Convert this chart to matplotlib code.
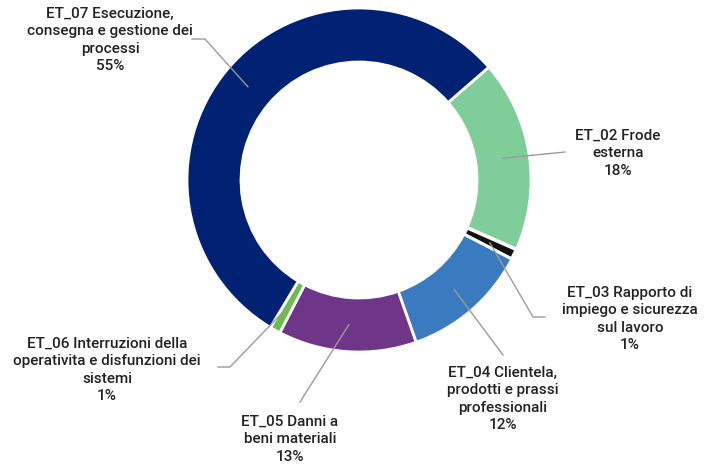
import numpy as np
from matplotlib import pyplot as plt

plt.rcParams['font.family'] = ['Roboto', 'DejaVu Sans']

# data
categories = ["ET_02 Frode\nesterna",
              "ET_03 Rapporto di\nimpiego e sicurezza\nsul lavoro",
              "ET_04 Clientela,\nprodotti e prassi\nprofessionali",
              "ET_05 Danni a\nbeni materiali",
              "ET_06 Interruzioni della\noperativita e disfunzioni dei\nsistemi",
              "ET_07 Esecuzione,\nconsegna e gestione dei\nprocessi"]
values = [18, 1, 12, 13, 1, 55]
colors = ["#7fcd99", "#111111", "#3a7bbf", "#6e3589", "#6abf4b", "#012272"]

# label layout (image pixel coords): text centre, then leader path from wedge outwards
text_pos = [(618, 153), (630, 319), (503, 399), (290, 439), (107, 370), (110, 40)]
leader_pts = [[(565, 152)],
              [(533, 317), (545, 317)],
              [(503, 355)],
              [(300, 402)],
              [(230, 367), (218, 367)],
              [(205, 39), (192, 39)]]

W, H = 704, 466
fig = plt.figure(figsize=(W / 100, H / 100), dpi=100)
ax = fig.add_axes([0, 0, 1, 1])

cx, cy, r = 359, H - 180, 172
width = 54
wedges, _ = ax.pie(values, colors=colors, startangle=41, counterclock=False,
                   center=(cx, cy), radius=r,
                   wedgeprops=dict(width=width, edgecolor='white', linewidth=2.0))
wedges[1].set_linewidth(2.6)

ax.set_xlim(0, W)
ax.set_ylim(0, H)
ax.set_aspect('equal')
ax.axis('off')

rmid = r - width / 2
for w, lab, val, tp, pts in zip(wedges, categories, values, text_pos, leader_pts):
    ang = np.deg2rad((w.theta1 + w.theta2) / 2)
    xs = [cx + rmid * np.cos(ang)] + [p[0] for p in pts]
    ys = [cy + rmid * np.sin(ang)] + [H - p[1] for p in pts]
    ax.plot(xs, ys, color='#9a9a9a', lw=1.0, zorder=5)
    ax.text(tp[0], H - tp[1], "{}\n{}%".format(lab, val), ha='center', va='center',
            fontsize=11, fontweight='medium', color='#222222', linespacing=1.32)

fig.savefig('out.png', dpi=100)
